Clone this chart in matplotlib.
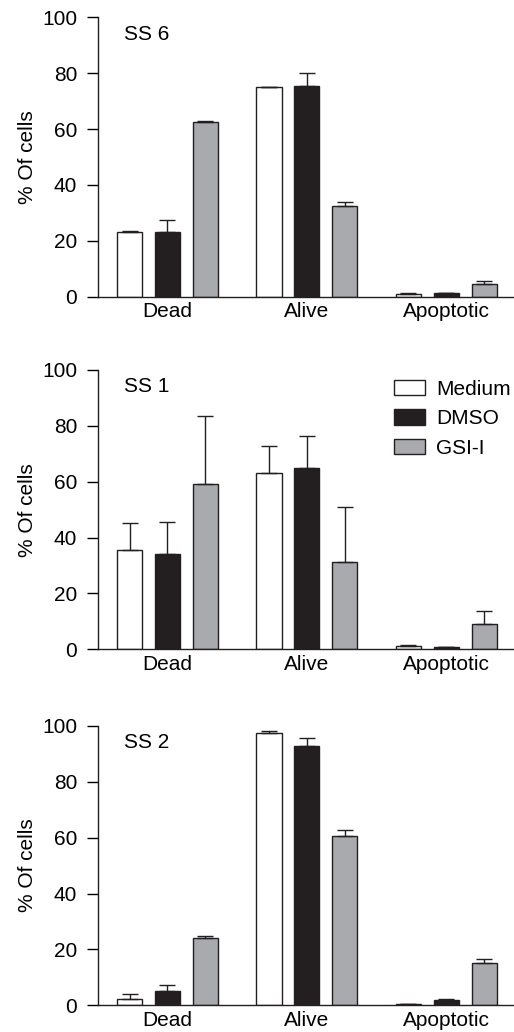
import numpy as np
import matplotlib.pyplot as plt

plt.rcParams['font.family'] = ['Liberation Sans', 'DejaVu Sans']

categories = ['Dead', 'Alive', 'Apoptotic']
series = ['Medium', 'DMSO', 'GSI-I']
colors = ['white', '#231f20', '#a9aaad']

panels = ['SS 6', 'SS 1', 'SS 2']

# means, rows = series (Medium, DMSO, GSI-I), cols = categories
ss6_mean = [[23.3, 74.9, 1.1], [23.0, 75.4, 1.4], [62.4, 32.3, 4.5]]
ss6_err = [[0.1, 0.2, 0.3], [4.4, 4.8, 0.1], [0.6, 1.7, 1.2]]
ss1_mean = [[35.4, 63.2, 1.1], [34.1, 64.9, 0.8], [59.2, 31.4, 9.1]]
ss1_err = [[9.8, 9.5, 0.3], [11.5, 11.5, 0.1], [24.3, 19.7, 4.7]]
ss2_mean = [[2.3, 97.4, 0.5], [5.1, 92.8, 1.8], [24.1, 60.5, 15.0]]
ss2_err = [[1.8, 0.6, 0.1], [2.2, 2.7, 0.5], [0.8, 2.1, 1.5]]

means = [ss6_mean, ss1_mean, ss2_mean]
errs = [ss6_err, ss1_err, ss2_err]

fig = plt.figure(figsize=(5.14, 10.32), dpi=100)
bottoms = [0.7125, 0.3708, 0.0259]
x = np.arange(len(categories))
width = 0.18
offset = 0.272
fs = 15

for p in range(3):
    ax = fig.add_axes([0.1907, bottoms[p], 0.807, 0.2707])
    for i in range(3):
        ax.bar(x + (i - 1) * offset, means[p][i], width, color=colors[i],
               edgecolor='#231f20', linewidth=1.0, label=series[i],
               yerr=[np.zeros(3), errs[p][i]], capsize=5.5,
               error_kw=dict(elinewidth=1.0, capthick=1.0, ecolor='#231f20'),
               zorder=2)
    ax.set_xlim(-0.498, 2.477)
    ax.set_ylim(0, 100)
    ax.set_yticks([0, 20, 40, 60, 80, 100])
    ax.set_xticks(x)
    ax.set_xticklabels(categories)
    ax.tick_params(axis='x', length=0, pad=4, labelsize=fs)
    ax.tick_params(axis='y', length=8, width=1, direction='out', pad=7, labelsize=fs)
    for s in ['top', 'right']:
        ax.spines[s].set_visible(False)
    for s in ['left', 'bottom']:
        ax.spines[s].set_linewidth(1.0)
        ax.spines[s].set_color('#231f20')
    ax.set_ylabel('% Of cells', fontsize=fs, labelpad=4)
    ax.text(0.063, 0.94, panels[p], transform=ax.transAxes, fontsize=fs,
            va='center', ha='left')
    if p == 1:
        ax.legend(loc='upper right', bbox_to_anchor=(0.995, 0.965), frameon=False,
                  fontsize=fs, handlelength=1.45, handleheight=0.77,
                  labelspacing=0.5, handletextpad=0.55,
                  borderaxespad=0, borderpad=0)

fig.savefig('out.png', dpi=100)
